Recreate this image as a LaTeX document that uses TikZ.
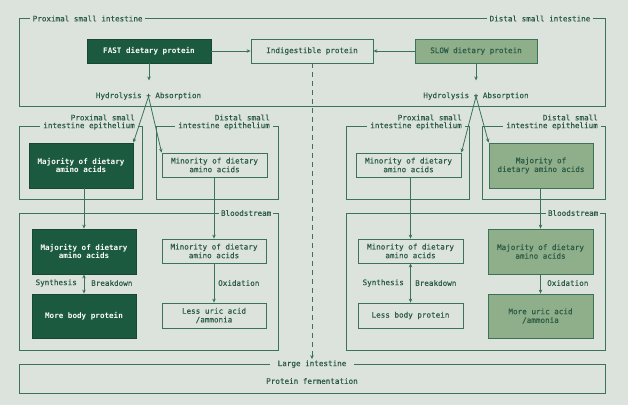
\documentclass[tikz,border=0pt]{standalone}
\usepackage{fontspec}
\newfontfamily\medmono[FakeBold=0.35]{DejaVu Sans Mono}
\newfontfamily\boldmono{DejaVu Sans Mono Bold}
\usetikzlibrary{arrows.meta}
\definecolor{bg}{HTML}{DCE3DC}
\definecolor{dk}{HTML}{1B5A3F}
\definecolor{lt}{HTML}{8FAE8A}
\definecolor{lc}{HTML}{3A7358}
\definecolor{tc}{HTML}{2B5B45}
\tikzset{
  x=1pt, y=-1pt,
  every node/.style={font=\medmono\fontsize{7.6}{8.7}\selectfont, text=tc, inner sep=0pt},
  frm/.style={draw=lc, line width=0.8pt},
  lbl/.style={fill=bg, inner xsep=2.5pt, inner ysep=1pt},
  boxbase/.style={draw=lc, line width=0.8pt, align=center},
  dbox/.style={boxbase, fill=dk, draw=dk!80!black, text=white, font=\boldmono\fontsize{7.6}{8.7}\selectfont},
  lbox/.style={boxbase, fill=lt, draw=lc, text=tc},
  wbox/.style={boxbase, text=tc},
  conn/.style={draw=lc, line width=0.8pt, -{Stealth[length=4pt,width=3.5pt]}},
  dconn/.style={draw=lc, line width=0.8pt, {Stealth[length=4pt,width=3.5pt]}-{Stealth[length=4pt,width=3.5pt]}},
}
\begin{document}
\begin{tikzpicture}
\fill[bg] (0,0) rectangle (628,405);
\useasboundingbox (0,0) rectangle (628,405);

% frames
\draw[frm] (19,18.5) rectangle (605,106);
\draw[frm] (19,126) rectangle (142,199);
\draw[frm] (156,126) rectangle (278,199);
\draw[frm] (346,126) rectangle (469,199);
\draw[frm] (482,126) rectangle (605,199);
\draw[frm] (19,213) rectangle (278,350);
\draw[frm] (346,213) rectangle (605,350);
\draw[frm] (19,364) rectangle (605,393);

% frame labels
\node[lbl, anchor=west] (lprox) at (30,18.5) {Proximal small intestine};
\node[lbl, anchor=east] (ldist) at (593,18.5) {Distal small intestine};
\node[lbl, anchor=east, inner xsep=3pt] (epL1b) at (138,126) {intestine epithelium};
\node[anchor=east] (epL1a) at (135,117.5) {Proximal small};
\node[lbl, anchor=east, inner xsep=3pt] (epL2b) at (273,126) {intestine epithelium};
\node[anchor=east] (epL2a) at (270,117.5) {Distal small};
\node[lbl, anchor=east, inner xsep=3pt] (epR1b) at (465,126) {intestine epithelium};
\node[anchor=east] (epR1a) at (462,117.5) {Proximal small};
\node[lbl, anchor=east, inner xsep=3pt] (epR2b) at (601,126) {intestine epithelium};
\node[anchor=east] (epR2a) at (598,117.5) {Distal small};
\node[lbl, anchor=east, inner xsep=1.5pt] (bsL) at (273,213) {Bloodstream};
\node[lbl, anchor=east, inner xsep=1.5pt] (bsR) at (600,213) {Bloodstream};
\node[lbl, inner xsep=8pt] (large) at (312,364) {Large intestine};
\node (ferm) at (312,381) {Protein fermentation};

% top boxes
\node[dbox, minimum width=124pt, minimum height=24pt] (fast) at (149,51) {FAST dietary protein};
\node[wbox, minimum width=122pt, minimum height=24pt] (indig) at (312,51) {Indigestible protein};
\node[lbox, minimum width=122pt, minimum height=24pt] (slow) at (476,51) {SLOW dietary protein};
\node (hydL) at (148.5,96) {Hydrolysis + Absorption};
\node (hydR) at (476,96) {Hydrolysis + Absorption};
\coordinate (plusL) at (148.5,96.5);
\coordinate (plusR) at (476,96.5);

% epithelium boxes
\node[dbox, minimum width=104pt, minimum height=45pt] (majL1) at (81,165.5) {Majority of dietary\\amino acids};
\node[wbox, minimum width=105pt, minimum height=24pt] (minL1) at (214.5,165) {Minority of dietary\\amino acids};
\node[wbox, minimum width=105pt, minimum height=24pt] (minR1) at (408.5,165) {Minority of dietary\\amino acids};
\node[lbox, minimum width=104pt, minimum height=45pt] (majR1) at (541,165.5) {Majority of\\dietary amino acids};

% bloodstream boxes
\node[dbox, minimum width=104pt, minimum height=45pt] (majL2) at (84,251.5) {Majority of dietary\\amino acids};
\node[dbox, minimum width=104pt, minimum height=44pt] (bodyL) at (84,316) {More body protein};
\node[wbox, minimum width=104pt, minimum height=24pt] (minL2) at (214,251) {Minority of dietary\\amino acids};
\node[wbox, minimum width=104pt, minimum height=25pt] (uricL) at (214,315.5) {Less uric acid\\/ammonia};
\node[wbox, minimum width=105pt, minimum height=24pt] (minR2) at (410.5,251) {Minority of dietary\\amino acids};
\node[wbox, minimum width=105pt, minimum height=25pt] (bodyR) at (410.5,315.5) {Less body protein};
\node[lbox, minimum width=105pt, minimum height=45pt] (majR2) at (540.5,251.5) {Majority of dietary\\amino acids};
\node[lbox, minimum width=105pt, minimum height=44pt] (uricR) at (540.5,316) {More uric acid\\/ammonia};

% side labels
\node[anchor=east] (synL) at (77,283) {Synthesis};
\node[anchor=west] (brkL) at (91,283) {Breakdown};
\node[anchor=east] (synR) at (404,283) {Synthesis};
\node[anchor=west] (brkR) at (415,283) {Breakdown};
\node[anchor=west] (oxL) at (218,283) {Oxidation};
\node[anchor=west] (oxR) at (547,283) {Oxidation};

% connectors top
\draw[conn] (fast) -- (indig);
\draw[conn] (slow) -- (indig);
\draw[conn] (fast.south) -- ++(0,17);
\draw[conn] (slow.south) -- ++(0,17);
\draw[conn] (plusL) -- (majL1.north east);
\draw[conn] (plusL) -- (minL1.north west);
\draw[conn] (plusR) -- (minR1.north east);
\draw[conn] (plusR) -- (majR1.north west);
\draw[conn, dashed, dash pattern=on 5pt off 4pt] (indig.south) -- (large.north);

% connectors down
\draw[conn] (majL1.south -| majL2) -- (majL2);
\draw[conn] (minL1.south -| minL2) -- (minL2);
\draw[conn] (minR1.south -| minR2) -- (minR2);
\draw[conn] (majR1.south -| majR2) -- (majR2);
\draw[dconn] (majL2) -- (bodyL);
\draw[dconn] (minR2) -- (bodyR);
\draw[conn] (minL2) -- (uricL);
\draw[conn] (majR2) -- (uricR);
\end{tikzpicture}
\end{document}
